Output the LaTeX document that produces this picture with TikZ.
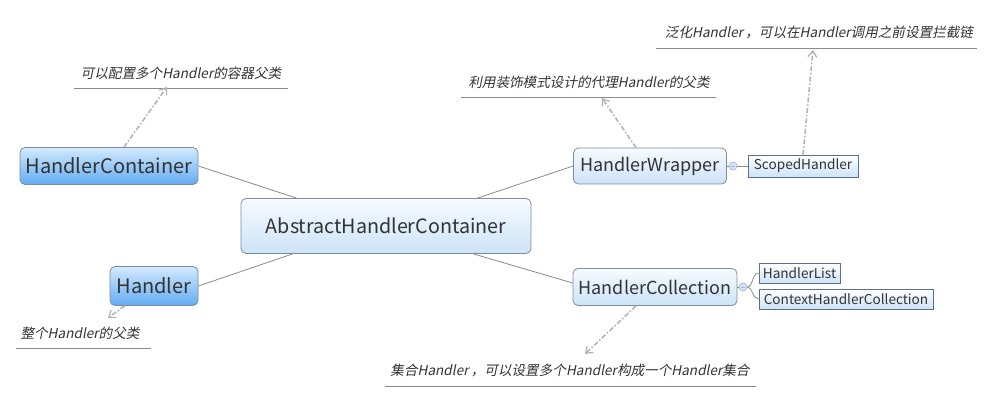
\documentclass[tikz,border=0pt]{standalone}
\usepackage{fontspec}
\setmainfont{Noto Sans CJK SC}
\newfontfamily\slfont[FakeSlant=0.2]{Noto Sans CJK SC}
\usetikzlibrary{arrows.meta,calc}
\definecolor{txt}{HTML}{333333}
\definecolor{bordc}{HTML}{7F8C9C}
\definecolor{darkb}{HTML}{5F6F86}
\definecolor{linec}{HTML}{8A8A8A}
\definecolor{dashc}{HTML}{B4B4B4}
\definecolor{blueT}{HTML}{D3E9FD}
\definecolor{blueB}{HTML}{62ACF3}
\definecolor{lightT}{HTML}{F7FBFF}
\definecolor{lightB}{HTML}{CCE3F8}
\definecolor{circf}{HTML}{D5E5F7}
\definecolor{circd}{HTML}{9DB8DA}
\tikzset{
  base/.style={draw=bordc, line width=0.8pt, rounded corners=5pt, text=txt, inner sep=0pt},
  bluebox/.style={base, top color=blueT, bottom color=blueB},
  lightbox/.style={base, top color=lightT, bottom color=lightB},
  smallbox/.style={draw=darkb, line width=0.7pt, text=txt, inner sep=0pt, top color=white, bottom color=lightB, font=\fontsize{13.6}{15}\selectfont},
  note/.style={text=txt, inner sep=0pt, font=\slfont\fontsize{13.6}{15}\selectfont},
  uline/.style={draw=linec, line width=0.8pt},
  conn/.style={draw=linec, line width=0.8pt},
  dasharr/.style={draw=dashc, line width=1.6pt, dash pattern=on 5pt off 2pt on 1.5pt off 2pt, -{Straight Barb[length=6pt,width=9pt,line width=1.3pt]}},
  knob/.style={circle, draw=circd, fill=circf, line width=0.7pt, minimum size=8pt, inner sep=0pt}
}
\begin{document}
\begin{tikzpicture}[x=1pt,y=-1pt]
\useasboundingbox (0,0) rectangle (993,403);
% main nodes
\node[bluebox, minimum width=178pt, minimum height=37pt, font=\fontsize{20}{24}\selectfont] (hc) at (109,166) {HandlerContainer};
\node[lightbox, minimum width=290pt, minimum height=55pt, font=\fontsize{19.7}{23}\selectfont] (ahc) at (386,226) {AbstractHandlerContainer};
\node[bluebox, minimum width=88pt, minimum height=39pt, font=\fontsize{20}{24}\selectfont] (h) at (154,286) {Handler};
\node[lightbox, minimum width=153pt, minimum height=36pt, font=\fontsize{18}{22}\selectfont] (hw) at (650,166) {HandlerWrapper};
\node[lightbox, minimum width=164pt, minimum height=37pt, font=\fontsize{18}{22}\selectfont] (hcol) at (655,287) {HandlerCollection};
\node[smallbox, minimum width=110pt, minimum height=22pt] (sh) at (803,166) {ScopedHandler};
\node[smallbox, minimum width=81pt, minimum height=20pt] (hl) at (799.5,273) {HandlerList};
\node[smallbox, minimum width=174pt, minimum height=20pt] (chc) at (846,299) {ContextHandlerCollection};
% knobs
\node[knob] (k1) at (733,166) {};
\node[knob] (k2) at (743,287) {};
\draw[circd, line width=0.7pt] ($(k1)+(-2,0)$) -- ($(k1)+(2,0)$);
\draw[circd, line width=0.7pt] ($(k2)+(-2,0)$) -- ($(k2)+(2,0)$);
% connectors
\draw[conn] (hc.east) -- ($(ahc.north west)+(56,0)$);
\draw[conn] (h.east) -- ($(ahc.south west)+(52,0)$);
\draw[conn] (hw.west) -- ($(ahc.north east)+(-54,0)$);
\draw[conn] ($(hcol.west)+(0,-4)$) -- ($(ahc.south east)+(-58,0)$);
\draw[conn] (hw.east) -- (k1.west);
\draw[conn] (k1.east) -- (sh.west);
\draw[conn] (hcol.east) -- (k2.west);
\draw[conn] (k2.east) .. controls (753,287) and (752,273) .. (hl.west);
\draw[conn] (k2.east) .. controls (753,287) and (752,299) .. (chc.west);
% notes
\node[note] (n1) at (181,73) {可以配置多个Handler的容器父类};
\draw[uline] (74,88) -- (288,88);
\node[note] (n2) at (80,333) {整个Handler的父类};
\draw[uline] (16,348) -- (151,348);
\node[note] (n3) at (589,82) {利用装饰模式设计的代理Handler的父类};
\draw[uline] (461,97) -- (716,97);
\node[note] (n4) at (819,32) {泛化Handler\,，可以在Handler调用之前设置拦截链};
\draw[uline] (656,48) -- (977,48);
\node[note] (n5) at (570,370) {集合Handler\,，可以设置多个Handler构成一个Handler集合};
\draw[uline] (385,386) -- (756,386);
% dashed arrows
\coordinate (e1) at (167,87);
\coordinate (e2) at (108,318);
\coordinate (e3) at (602,98);
\coordinate (e4) at (813,50);
\coordinate (e5) at (585,354);
\draw[dasharr] ($(hc.north)+(15,0)$) -- (e1);
\draw[dasharr] ($(h.south west)+(15,0)$) -- (e2);
\draw[dasharr] ($(hw.north)+(-14,0)$) -- (e3);
\draw[dasharr] (sh.north) -- (e4);
\draw[dasharr] ($(hcol.south)+(-19,0)$) -- (e5);
\end{tikzpicture}
\end{document}
